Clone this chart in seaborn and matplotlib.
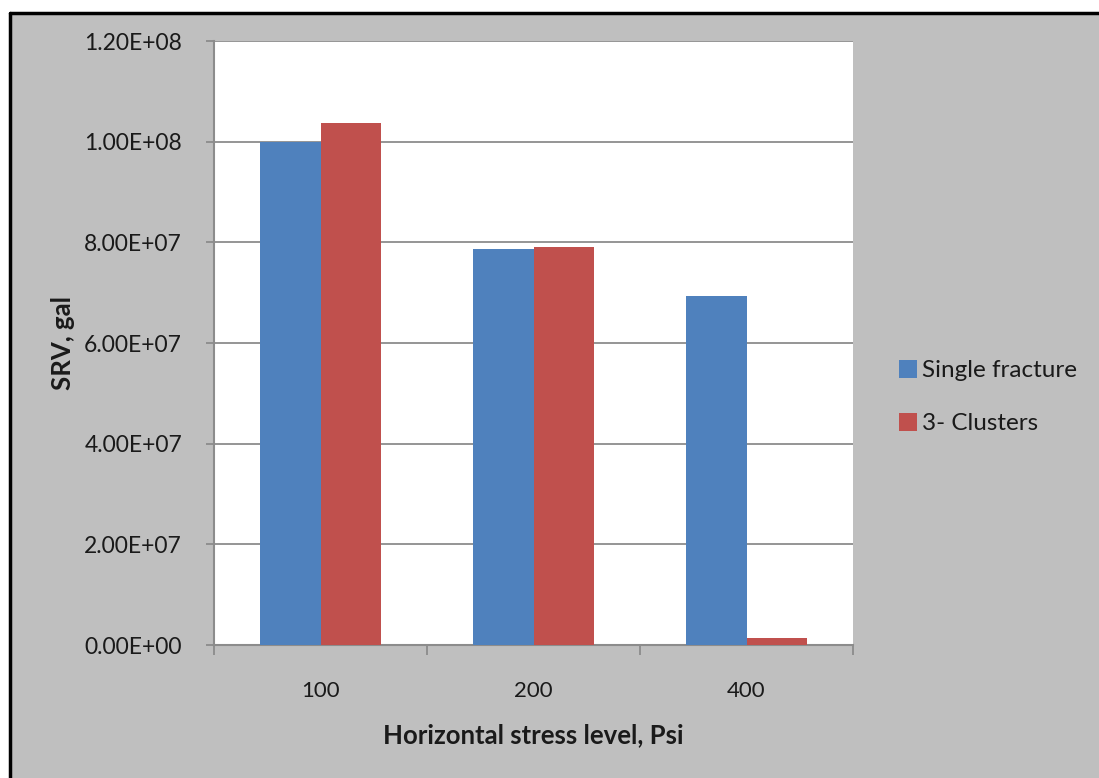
import matplotlib
matplotlib.use("Agg")
import matplotlib.pyplot as plt
import seaborn as sns
import pandas as pd
from matplotlib.patches import Rectangle, Patch
from matplotlib.lines import Line2D
from matplotlib.ticker import FuncFormatter

categories = ["100", "200", "400"]
single_fracture = [1.00e8, 7.87e7, 6.94e7]
three_clusters = [1.037e8, 7.90e7, 1.4e6]
series_names = ["Single fracture", "3- Clusters"]
colors = ["#4f81bd", "#c0504d"]

df = pd.DataFrame({
    "stress": categories * 2,
    "srv": single_fracture + three_clusters,
    "series": [series_names[0]] * 3 + [series_names[1]] * 3,
})

sns.set_theme(style="white")
plt.rcParams["font.family"] = ["Lato", "DejaVu Sans"]

W, H = 1099, 778
fig = plt.figure(figsize=(W / 100, H / 100), dpi=100)
fig.patch.set_facecolor("white")
x0, y1 = 10 / W, 1 - 13 / H
bg = Rectangle((x0, 0), 1 - x0, y1, transform=fig.transFigure,
               facecolor="#bfbfbf", edgecolor="none", zorder=-10)
fig.patches.append(bg)
fig.lines.append(Line2D([x0, 1], [y1, y1], transform=fig.transFigure,
                        color="black", linewidth=2.5, zorder=-5))
fig.lines.append(Line2D([x0, x0], [0, y1], transform=fig.transFigure,
                        color="black", linewidth=2.5, zorder=-5))

ax = fig.add_axes([214 / W, 1 - 645 / H, (853 - 214) / W, (645 - 41) / H])
ax.set_facecolor("white")

sns.barplot(data=df, x="stress", y="srv", hue="series", order=categories,
            hue_order=series_names, palette=colors, width=0.565, dodge=True,
            saturation=1, ax=ax, legend=False, edgecolor="none", zorder=3)

ax.set_ylim(0, 1.2e8)
ax.set_yticks([0, 2e7, 4e7, 6e7, 8e7, 1e8, 1.2e8])
ax.yaxis.set_major_formatter(FuncFormatter(lambda v, p: f"{v:.2E}"))
ax.grid(axis="y", color="#8c8c8c", linewidth=1.3, zorder=1)
ax.set_xlim(-0.5, 2.5)

for s in ["top", "right"]:
    ax.spines[s].set_visible(False)
ax.spines["left"].set_color("#8c8c8c")
ax.spines["left"].set_linewidth(1.5)
ax.spines["bottom"].set_color("#8c8c8c")
ax.spines["bottom"].set_linewidth(1.5)

ax.tick_params(axis="y", which="major", left=True, length=6, width=1.3,
               color="#8c8c8c", labelsize=16.5, pad=17, labelcolor="#1a1a1a")
ax.set_xticks([0, 1, 2])
ax.set_xticklabels(categories)
ax.set_xticks([-0.5, 0.5, 1.5, 2.5], minor=True)
ax.tick_params(axis="x", which="major", bottom=False, labelsize=16, pad=20,
               labelcolor="#1a1a1a")
ax.tick_params(axis="x", which="minor", bottom=True, length=7, width=1.3,
               color="#8c8c8c")

ax.set_xlabel("Horizontal stress level, Psi", fontsize=18.5, fontweight="bold",
              labelpad=16, color="#1a1a1a")
ax.set_ylabel("SRV, gal", fontsize=18.5, fontweight="bold", color="#1a1a1a")
ax.yaxis.set_label_coords((75 - 214) / (853 - 214), (645 - 343) / (645 - 41))

handles = [Patch(facecolor=c, edgecolor="none") for c in colors]
fig.legend(handles, series_names, loc="center left",
           bbox_to_anchor=(877 / W, 1 - 397 / H), frameon=False, fontsize=17.5,
           handlelength=0.75, handleheight=0.75, handletextpad=0.2,
           labelspacing=1.3, labelcolor="#1a1a1a")

fig.savefig("out.png", dpi=100, facecolor=fig.get_facecolor())
